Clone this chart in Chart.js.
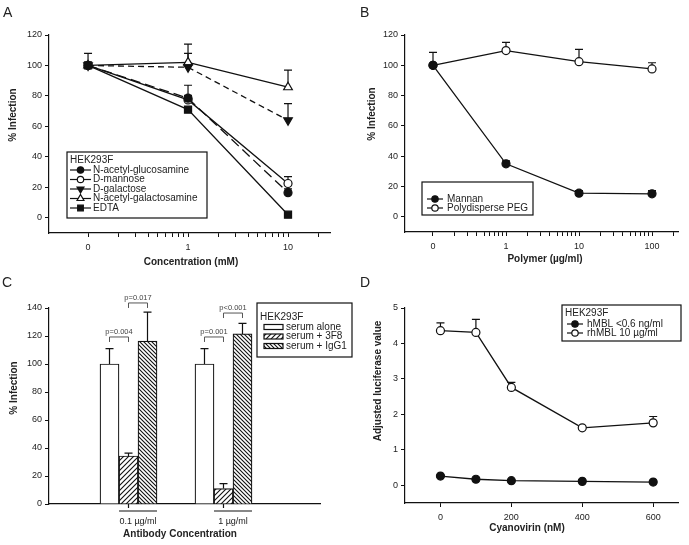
<!DOCTYPE html>
<html>
<head>
<meta charset="utf-8">
<script src="https://cdn.jsdelivr.net/npm/chart.js@4.4.1/dist/chart.umd.min.js"></script>
<style>
  body { margin: 0; background: #fff; }
  .figure { position: relative; width: 689px; height: 545px; overflow: hidden; font-family: Arial, "Liberation Sans", sans-serif; }
  .figure canvas { position: absolute; }
  .panel-letter { position: absolute; font-size: 14px; line-height: 1; color: #222; }
</style>
</head>
<body>
<div class="figure">
  <canvas id="chart-a" width="345" height="270" style="left:0;top:0"></canvas>
  <canvas id="chart-b" width="344" height="270" style="left:345px;top:0"></canvas>
  <canvas id="chart-c" width="360" height="275" style="left:0;top:270px"></canvas>
  <canvas id="chart-d" width="344" height="275" style="left:345px;top:270px"></canvas>
  <div class="panel-letter" style="left:3px;top:5px">A</div>
  <div class="panel-letter" style="left:360px;top:5px">B</div>
  <div class="panel-letter" style="left:2px;top:275px">C</div>
  <div class="panel-letter" style="left:360px;top:275px">D</div>
</div>
<script>
// ---- A: sugars / EDTA
const concA = [0, 1, 10];   // mM, 0 is drawn one decade below 1
const glcnacA = [100, 78.5, 16.5];
const glcnacErrA = [8, 8.5, 2.5];
const mannoseA = [100, 77.4, 22.5];
const mannoseErrA = [null, 3, 4.5];
const galactoseA = [100, 98.8, 64];
const galactoseErrA = [null, 9.2, 11];
const galnacA = [100, 102, 85.7];
const galnacErrA = [null, 12, 11.3];
const edtaA = [100, 71, 2];
const yTicksA = [0, 20, 40, 60, 80, 100, 120];

// ---- B: polymers
const polymerB = [0, 1, 10, 100];   // µg/ml
const mannanB = [100, 35, 15.6, 15.2];
const mannanErrB = [null, 2, 1.7, 2.1];
const pegB = [100, 109.7, 102.4, 97.6];
const pegErrB = [8.6, 5.4, 8.1, 4.1];
const yTicksB = [0, 20, 40, 60, 80, 100, 120];

// ---- C: antibody
const doseC = ['0.1 µg/ml', '1 µg/ml'];
const serumC = [100, 100];
const serumErrC = [11, 11];
const f38C = [34.3, 11];
const f38ErrC = [2.1, 3.5];
const igg1C = [116.4, 121.5];
const igg1ErrC = [20.6, 7.5];
const pTextC = ['p=0.004', 'p=0.017', 'p=0.001', 'p<0.001'];
const pGroupC = [0, 0, 1, 1];
const pPairC = [[0, 1], [1, 2], [0, 1], [1, 2]];
const pLevelC = [119.3, 143.6, 119.3, 136.4];
const yTicksC = [0, 20, 40, 60, 80, 100, 120, 140];

// ---- D: cyanovirin
const cyanD = [0, 100, 200, 400, 600];
const hmblD = [0.26, 0.17, 0.13, 0.11, 0.09];
const rhmblD = [4.36, 4.31, 2.76, 1.62, 1.76];
const rhmblErrD = [0.22, 0.37, 0.14, null, 0.18];
const yTicksD = [0, 1, 2, 3, 4, 5];
const xTicksD = [0, 200, 400, 600];

const FONT = 'Arial, "Liberation Sans", Helvetica, sans-serif';
Chart.defaults.font.family = FONT;
Chart.defaults.font.size = 9;
Chart.defaults.color = '#222';
Chart.defaults.animation = false;
Chart.defaults.plugins.legend.display = false;
Chart.defaults.plugins.tooltip.enabled = false;

const logPos = c => c === 0 ? 0.1 : c;

function decadeTicks(from, to, max) {
    const out = [];
    for (let d = from; d <= to * 1.001; d *= 10) {
        for (let k = 1; k <= 9; k++) {
            const v = +(d * k).toPrecision(3);
            if (v <= max) out.push(v);
        }
    }
    return out;
}

function yAxis(min, max, ticks, width) {
    return {
        min: min, max: max,
        afterBuildTicks: s => { s.ticks = ticks.map(v => ({ value: v })); },
        afterFit: s => { s.width = width; },
        grid: { drawOnChartArea: false, color: '#111', tickLength: 4 },
        border: { color: '#111', width: 1.2 },
        ticks: { padding: 3, color: '#222', font: { size: 9 } }
    };
}

// upper error bars
const errorBars = {
    id: 'errorBars',
    beforeDatasetsDraw(chart) {
        const ctx = chart.ctx, ys = chart.scales.y;
        chart.data.datasets.forEach((ds, i) => {
            if (!ds.errUp) return;
            chart.getDatasetMeta(i).data.forEach((el, j) => {
                const e = ds.errUp[j];
                if (e == null) return;
                const top = ys.getPixelForValue(ds.data[j].y + e);
                ctx.save();
                ctx.strokeStyle = '#111';
                ctx.lineWidth = 1.2;
                ctx.beginPath();
                ctx.moveTo(el.x, el.y);
                ctx.lineTo(el.x, top);
                ctx.moveTo(el.x - 4, top);
                ctx.lineTo(el.x + 4, top);
                ctx.stroke();
                ctx.restore();
            });
        });
    }
};

// framed legend like the original figure
const boxLegend = {
    id: 'boxLegend',
    afterDraw(chart, args, o) {
        if (!o || !o.box) return;
        const ctx = chart.ctx, b = o.box;
        ctx.save();
        ctx.fillStyle = '#fff';
        ctx.fillRect(b.x, b.y, b.w, b.h);
        ctx.strokeStyle = '#111';
        ctx.lineWidth = 1.2;
        ctx.strokeRect(b.x, b.y, b.w, b.h);
        ctx.font = '10px ' + FONT;
        ctx.textBaseline = 'middle';
        ctx.fillStyle = '#222';
        if (o.title) ctx.fillText(o.title, b.x + 3, o.titleY);
        chart.data.datasets.forEach((ds, i) => {
            const y = o.rowY + i * o.rowGap;
            ctx.strokeStyle = '#111';
            ctx.lineWidth = 1.2;
            if (o.kind === 'bar') {
                ctx.fillStyle = ds.backgroundColor;
                ctx.fillRect(o.sx0, y - 2.5, o.sx1 - o.sx0, 5);
                ctx.strokeRect(o.sx0, y - 2.5, o.sx1 - o.sx0, 5);
            } else {
                ctx.beginPath();
                ctx.moveTo(o.sx0, y);
                ctx.lineTo(o.sx1, y);
                ctx.stroke();
                ctx.fillStyle = ds.pointBackgroundColor;
                Chart.helpers.drawPoint(ctx, {
                    pointStyle: ds.pointStyle || 'circle',
                    rotation: ds.pointRotation || 0,
                    radius: (ds.pointRadius || 4) * 0.8,
                    borderWidth: 1.2
                }, (o.sx0 + o.sx1) / 2, y);
            }
            ctx.fillStyle = '#222';
            ctx.fillText(ds.label, o.textX, y);
        });
        ctx.restore();
    }
};

// axis titles
const axisNames = {
    id: 'axisNames',
    afterDraw(chart, args, o) {
        const ctx = chart.ctx;
        ctx.save();
        ctx.font = 'bold 10px ' + FONT;
        ctx.fillStyle = '#222';
        ctx.textAlign = 'center';
        ctx.textBaseline = 'middle';
        ctx.fillText(o.x.text, o.x.cx, o.x.cy);
        ctx.translate(o.y.cx, o.y.cy);
        ctx.rotate(-Math.PI / 2);
        ctx.fillText(o.y.text, 0, 0);
        ctx.restore();
    }
};

function lineSet(label, xs, ys, errs, extra) {
    return Object.assign({
        label: label,
        data: xs.map((x, i) => ({ x: x, y: ys[i] })),
        errUp: errs,
        borderColor: '#111',
        borderWidth: 1.3,
        pointBorderColor: '#111',
        pointBorderWidth: 1.2,
        pointBackgroundColor: '#111',
        pointRadius: 4,
        tension: 0
    }, extra);
}

// ---------- A
const xA = concA.map(logPos);
new Chart(document.getElementById('chart-a'), {
    type: 'line',
    data: {
        datasets: [
            lineSet('N-acetyl-glucosamine', xA, glcnacA, glcnacErrA, { borderDash: [10, 5] }),
            lineSet('D-mannose', xA, mannoseA, mannoseErrA, { pointBackgroundColor: '#fff' }),
            lineSet('D-galactose', xA, galactoseA, galactoseErrA, { borderDash: [6, 4], pointStyle: 'triangle', pointRotation: 180, pointRadius: 5 }),
            lineSet('N-acetyl-galactosamine', xA, galnacA, galnacErrA, { pointBackgroundColor: '#fff', pointStyle: 'triangle', pointRadius: 5 }),
            lineSet('EDTA', xA, edtaA, null, { pointStyle: 'rect', pointRadius: 5 })
        ]
    },
    options: {
        responsive: false,
        layout: { padding: { top: 35, right: 15, left: 0, bottom: 0 } },
        scales: {
            x: {
                type: 'logarithmic', min: 0.0407, max: 26.3,
                afterBuildTicks: s => { s.ticks = decadeTicks(0.1, 10, 26.3).map(v => ({ value: v })); },
                afterFit: s => { s.height = 37; },
                grid: { drawOnChartArea: false, color: '#111', tickLength: 4 },
                border: { color: '#111', width: 1.2 },
                ticks: {
                    autoSkip: false, maxRotation: 0, padding: 5, font: { size: 9 },
                    callback: v => { const i = xA.indexOf(v); return i >= 0 ? String(concA[i]) : ''; }
                }
            },
            y: yAxis(-10, 120, yTicksA, 49)
        },
        plugins: {
            boxLegend: { box: { x: 67, y: 152, w: 140, h: 66 }, title: 'HEK293F', titleY: 160,
                rowY: 170, rowGap: 9.5, sx0: 70, sx1: 91, textX: 93 },
            axisNames: { x: { text: 'Concentration (mM)', cx: 191, cy: 262 }, y: { text: '% Infection', cx: 13, cy: 115 } }
        }
    },
    plugins: [errorBars, boxLegend, axisNames]
});

// ---------- B
const xB = polymerB.map(logPos);
new Chart(document.getElementById('chart-b'), {
    type: 'line',
    data: {
        datasets: [
            lineSet('Mannan', xB, mannanB, mannanErrB),
            lineSet('Polydisperse PEG', xB, pegB, pegErrB, { pointBackgroundColor: '#fff' })
        ]
    },
    options: {
        responsive: false,
        layout: { padding: { top: 35, right: 11, left: 0, bottom: 0 } },
        scales: {
            x: {
                type: 'logarithmic', min: 0.04135, max: 227,
                afterBuildTicks: s => { s.ticks = decadeTicks(0.1, 100, 227).map(v => ({ value: v })); },
                afterFit: s => { s.height = 38; },
                grid: { drawOnChartArea: false, color: '#111', tickLength: 4 },
                border: { color: '#111', width: 1.2 },
                ticks: {
                    autoSkip: false, maxRotation: 0, padding: 5, font: { size: 9 },
                    callback: v => { const i = xB.indexOf(v); return i >= 0 ? String(polymerB[i]) : ''; }
                }
            },
            y: yAxis(-10, 120, yTicksB, 60)
        },
        plugins: {
            boxLegend: { box: { x: 77, y: 182, w: 111, h: 33 }, rowY: 199, rowGap: 9, sx0: 82, sx1: 98, textX: 102 },
            axisNames: { x: { text: 'Polymer (µg/ml)', cx: 200, cy: 259 }, y: { text: '% Infection', cx: 27, cy: 114 } }
        }
    },
    plugins: [errorBars, boxLegend, axisNames]
});

// ---------- C
function hatch(dir, gap) {
    const c = document.createElement('canvas');
    c.width = c.height = gap;
    const g = c.getContext('2d');
    g.fillStyle = '#fff';
    g.fillRect(0, 0, gap, gap);
    g.strokeStyle = '#111';
    g.lineWidth = 1.1;
    g.beginPath();
    if (dir > 0) {
        g.moveTo(-1, gap + 1); g.lineTo(gap + 1, -1);
        g.moveTo(-1, 1); g.lineTo(1, -1);
        g.moveTo(gap - 1, gap + 1); g.lineTo(gap + 1, gap - 1);
    } else {
        g.moveTo(-1, -1); g.lineTo(gap + 1, gap + 1);
        g.moveTo(gap - 1, -1); g.lineTo(gap + 1, 1);
        g.moveTo(-1, gap - 1); g.lineTo(1, gap + 1);
    }
    g.stroke();
    return g.createPattern(c, 'repeat');
}

const groupX = doseC.map((d, i) => i + 1);
const labelShift = 0.1;   // labels sit under the 3F8 + IgG1 pair

function barSet(label, ys, errs, fill) {
    return {
        label: label,
        data: groupX.map((x, i) => ({ x: x, y: ys[i] })),
        errUp: errs,
        backgroundColor: fill,
        borderColor: '#111',
        borderWidth: 1.2,
        barThickness: 19
    };
}

const brackets = {
    id: 'brackets',
    afterDatasetsDraw(chart) {
        const ctx = chart.ctx, ys = chart.scales.y, xs = chart.scales.x;
        ctx.save();
        // p-value brackets
        ctx.strokeStyle = '#555';
        ctx.lineWidth = 1;
        ctx.fillStyle = '#444';
        ctx.font = '7.5px ' + FONT;
        ctx.textAlign = 'center';
        ctx.textBaseline = 'bottom';
        pTextC.forEach((t, k) => {
            const a = chart.getDatasetMeta(pPairC[k][0]).data[pGroupC[k]];
            const b = chart.getDatasetMeta(pPairC[k][1]).data[pGroupC[k]];
            const y = ys.getPixelForValue(pLevelC[k]);
            ctx.beginPath();
            ctx.moveTo(a.x, y + 5); ctx.lineTo(a.x, y); ctx.lineTo(b.x, y); ctx.lineTo(b.x, y + 5);
            ctx.stroke();
            ctx.fillText(t, (a.x + b.x) / 2, y - 1);
        });
        // group tick and underline
        ctx.strokeStyle = '#111';
        ctx.lineWidth = 1.2;
        const base = ys.getPixelForValue(0);
        groupX.forEach((x, g) => {
            const mid = chart.getDatasetMeta(1).data[g];
            const last = chart.getDatasetMeta(2).data[g];
            const px = xs.getPixelForValue(x);
            ctx.beginPath();
            ctx.moveTo(px, base); ctx.lineTo(px, base + 4);
            ctx.moveTo(mid.x - mid.width / 2, base + 7);
            ctx.lineTo(last.x + last.width / 2, base + 7);
            ctx.stroke();
        });
        ctx.restore();
    }
};

new Chart(document.getElementById('chart-c'), {
    type: 'bar',
    data: {
        datasets: [
            barSet('serum alone', serumC, serumErrC, '#fff'),
            barSet('serum + 3F8', f38C, f38ErrC, hatch(1, 5)),
            barSet('serum + IgG1', igg1C, igg1ErrC, hatch(-1, 4))
        ]
    },
    options: {
        responsive: false,
        layout: { padding: { top: 38, right: 40, left: 0, bottom: 0 } },
        scales: {
            x: {
                type: 'linear', offset: false, min: 0.163, max: 3.016,
                afterBuildTicks: s => { s.ticks = groupX.map(x => ({ value: x + labelShift })); },
                afterFit: s => { s.height = 41; },
                grid: { display: false, drawTicks: false },
                border: { color: '#111', width: 1.2 },
                ticks: {
                    autoSkip: false, maxRotation: 0, padding: 12, font: { size: 9 },
                    callback: v => doseC[Math.round(v - labelShift) - 1]
                }
            },
            y: yAxis(0, 140, yTicksC, 49)
        },
        plugins: {
            boxLegend: { kind: 'bar', box: { x: 257, y: 33, w: 95, h: 54 }, title: 'HEK293F', titleY: 47,
                rowY: 57, rowGap: 9.5, sx0: 264, sx1: 283, textX: 286 },
            axisNames: { x: { text: 'Antibody Concentration', cx: 180, cy: 264 }, y: { text: '% Infection', cx: 14, cy: 118 } }
        }
    },
    plugins: [errorBars, brackets, boxLegend, axisNames]
});

// ---------- D
new Chart(document.getElementById('chart-d'), {
    type: 'line',
    data: {
        datasets: [
            lineSet('hMBL <0.6 ng/ml', cyanD, hmblD, null),
            lineSet('rhMBL 10 µg/ml', cyanD, rhmblD, rhmblErrD, { pointBackgroundColor: '#fff' })
        ]
    },
    options: {
        responsive: false,
        layout: { padding: { top: 38, right: 11, left: 0, bottom: 0 } },
        scales: {
            x: {
                type: 'linear', min: -100, max: 670,
                afterBuildTicks: s => { s.ticks = xTicksD.map(v => ({ value: v })); },
                afterFit: s => { s.height = 42; },
                grid: { drawOnChartArea: false, color: '#111', tickLength: 4 },
                border: { color: '#111', width: 1.2 },
                ticks: { autoSkip: false, maxRotation: 0, padding: 5, font: { size: 9 } }
            },
            y: yAxis(-0.5, 5, yTicksD, 60)
        },
        plugins: {
            boxLegend: { box: { x: 217, y: 35, w: 119, h: 36 }, title: 'HEK293F', titleY: 43,
                rowY: 54, rowGap: 9, sx0: 222, sx1: 238, textX: 242 },
            axisNames: { x: { text: 'Cyanovirin (nM)', cx: 182, cy: 258 }, y: { text: 'Adjusted luciferase value', cx: 33, cy: 111 } }
        }
    },
    plugins: [errorBars, boxLegend, axisNames]
});
</script>
</body>
</html>
